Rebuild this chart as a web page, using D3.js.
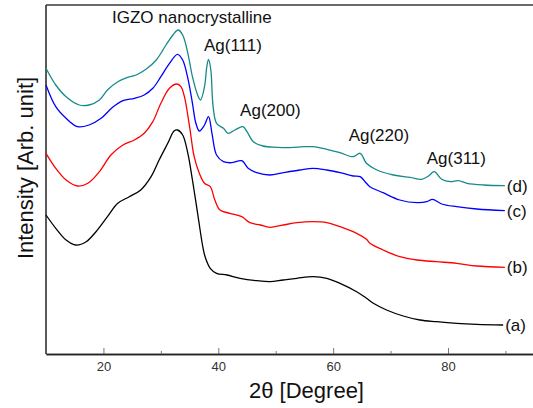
<!DOCTYPE html>
<html>
<head>
<meta charset="utf-8">
<script src="https://cdn.jsdelivr.net/npm/d3@7"></script>
<style>
  html, body { margin: 0; padding: 0; background: #fff; }
  svg { display: block; font-family: 'Liberation Sans', Arial, sans-serif; }
  .peak { font-size: 17px; fill: #111; }
  .tick text { font-size: 13px; fill: #333; }
  .tick line { stroke: #777; }
</style>
</head>
<body>
<script>
(function () {
  'use strict'

  // 2theta [deg], intensity [arb.]
  var sampleA = [
    [10.0, 139], [11.7, 125.7], [13.5, 114], [15.2, 109], [17.0, 112.3],
    [18.7, 122.3], [20.7, 137.3], [22.5, 150.7], [24.5, 157.3], [26.5, 164],
    [28.3, 177.3], [29.7, 194], [31.2, 210.7], [32.3, 223], [32.9, 224],
    [33.8, 219], [34.7, 200.7], [35.5, 174], [36.4, 140.7], [37.3, 107.3],
    [37.7, 97.3], [38.6, 85.7], [39.7, 80.7], [41.5, 79], [43.8, 75.7],
    [46.7, 73.3], [49.0, 72.3], [51.3, 74], [53.7, 75.7], [56.5, 77.3],
    [58.9, 75.7], [61.2, 70.7], [64.1, 62.3], [65.8, 55.7], [67.0, 50.7],
    [69.3, 44], [72.2, 38], [75.1, 34], [78.0, 32.3], [81.5, 30.7],
    [85.0, 29.7], [89.6, 29]
  ]
  var sampleB = [
    [10.0, 200.7], [11.7, 185.7], [13.5, 174], [15.5, 168], [17.3, 170.7],
    [19.3, 182.3], [21.3, 199], [23.4, 209], [25.4, 214], [27.1, 220.7],
    [28.6, 232.3], [30.0, 250.7], [31.5, 265.7], [32.8, 270], [33.5, 267.3],
    [34.1, 257.3], [35.0, 227.3], [35.8, 197.3], [36.7, 180.7], [37.6, 170.7],
    [38.6, 167.3], [39.4, 154], [40.3, 144], [42.0, 140.7], [44.1, 137.3],
    [45.5, 131.3], [47.3, 129], [49.0, 126.7], [51.3, 129], [53.7, 131.3],
    [56.5, 132.3], [58.9, 131.3], [61.2, 127.3], [64.1, 120.7], [65.8, 114.7],
    [66.4, 110.7], [68.7, 104], [71.6, 97.3], [74.6, 94], [78.0, 92.3],
    [81.5, 90.7], [85.0, 88], [89.9, 86.7]
  ]
  var sampleC = [
    [10.0, 269], [11.7, 247.3], [13.5, 235.7], [15.5, 227.3], [17.5, 229],
    [19.6, 235.7], [21.6, 246.7], [23.4, 253.3], [25.4, 255.7], [27.1, 259],
    [28.6, 265.7], [30.0, 277.3], [31.5, 290.7], [32.9, 299.7], [33.8, 294],
    [34.7, 275.7], [35.5, 250.7], [36.1, 230.7], [36.7, 223], [37.6, 229],
    [38.3, 237.3], [38.9, 220.7], [39.7, 199], [40.9, 192.3], [42.3, 191.3],
    [44.1, 193.3], [45.2, 185.7], [46.7, 181.3], [49.0, 179], [51.3, 181.3],
    [54.2, 184], [56.5, 185.7], [58.9, 184], [61.2, 181.3], [63.5, 178],
    [64.7, 177.3], [65.8, 170.7], [66.4, 167.3], [68.7, 161.3], [71.6, 154],
    [74.6, 151.3], [76.3, 152.3], [77.3, 154.7], [78.9, 150], [81.5, 147.3],
    [85.0, 145], [89.9, 143.3]
  ]
  var sampleD = [
    [10.0, 285.7], [11.7, 269], [13.5, 257.3], [15.8, 249], [17.5, 249],
    [19.3, 254], [20.7, 264], [22.5, 272.3], [24.2, 276.7], [25.7, 279],
    [27.4, 284.7], [29.2, 294], [30.9, 309], [32.1, 319], [33.0, 324],
    [33.8, 319], [34.7, 300.7], [35.5, 277.3], [36.4, 259], [36.9, 254],
    [37.6, 267.3], [38.0, 287.3], [38.3, 294.7], [38.7, 284], [39.1, 247.3],
    [39.7, 230.7], [40.9, 225.7], [41.7, 220.7], [42.9, 224], [44.3, 227.3],
    [45.0, 222.3], [46.1, 212.3], [47.8, 208], [50.2, 206.7], [52.5, 206.3],
    [54.8, 207.3], [56.5, 207.3], [58.9, 204.7], [61.2, 201.3], [63.5, 197.3],
    [64.7, 200.7], [65.8, 190.7], [67.6, 184], [70.5, 179], [73.4, 176.7],
    [75.4, 174.7], [76.6, 178], [77.6, 182.3], [78.9, 174.7], [80.4, 172.3],
    [81.8, 173.3], [83.3, 170.7], [86.2, 169], [89.9, 168.3]
  ]

  var seriesNames = ['(a)', '(b)', '(c)', '(d)']
  var seriesColors = ['#000000', '#ff0000', '#0000ff', '#168a8a']
  var seriesData = [sampleA, sampleB, sampleC, sampleD]

  var majorTicks = [20, 40, 60, 80]
  var minorTicks = [30, 50, 70, 90]

  // peak labels: [text, 2theta, intensity]
  var peakLabels = [
    ['IGZO nanocrystalline', 21.5, 331],
    ['Ag(111)', 37.5, 303],
    ['Ag(200)', 43.8, 238],
    ['Ag(220)', 62.7, 213],
    ['Ag(311)', 76.3, 190]
  ]

  var dim = { w: 533, h: 408 }
  var margin = { left: 46, top: 5, right: 0, bottom: 54 }

  var svg = d3.select('body').append('svg')
    .attr('width', dim.w)
    .attr('height', dim.h)

  var x = d3.scaleLinear().domain([10, 94.8])
    .range([margin.left, dim.w - margin.right])
  var y = d3.scaleLinear().domain([0, 349])
    .range([dim.h - margin.bottom, margin.top])

  // frame: top line, left axis
  svg.append('line')
    .attr('x1', margin.left).attr('x2', dim.w)
    .attr('y1', margin.top).attr('y2', margin.top)
    .attr('stroke', '#6a6a6a').attr('stroke-width', 2)
  svg.append('line')
    .attr('x1', margin.left).attr('x2', margin.left)
    .attr('y1', margin.top).attr('y2', dim.h - margin.bottom)
    .attr('stroke', '#222').attr('stroke-width', 1.5)

  var line = d3.line()
    .x(function (d) { return x(d[0]) })
    .y(function (d) { return y(d[1]) })
    .curve(d3.curveCatmullRom.alpha(0.5))

  svg.selectAll('.trace').data(seriesData)
    .enter().append('path')
      .attr('class', 'trace')
      .attr('fill', 'none')
      .attr('stroke', function (d, i) { return seriesColors[i] })
      .attr('stroke-width', 1.3)
      .attr('d', line)

  // bottom axis, ticks pointing inward
  var gx = svg.append('g')
    .attr('transform', 'translate(0,' + (dim.h - margin.bottom) + ')')
  gx.call(d3.axisBottom(x).tickValues(majorTicks).tickSize(-6)
    .tickSizeOuter(0).tickPadding(8))
  gx.append('g').call(d3.axisBottom(x).tickValues(minorTicks).tickSize(-3)
    .tickSizeOuter(0).tickFormat(''))
  gx.selectAll('.domain').attr('stroke', '#222').attr('stroke-width', 1.5)

  // series labels at the right end
  svg.selectAll('.name').data(seriesData)
    .enter().append('text')
      .attr('class', 'peak')
      .attr('x', function (d) { return x(d[d.length - 1][0]) + 2 })
      .attr('y', function (d) { return y(d[d.length - 1][1]) + 6 })
      .text(function (d, i) { return seriesNames[i] })

  svg.selectAll('.lbl').data(peakLabels)
    .enter().append('text')
      .attr('class', 'peak')
      .attr('x', function (d) { return x(d[1]) })
      .attr('y', function (d) { return y(d[2]) })
      .text(function (d) { return d[0] })

  svg.append('text')
    .attr('x', (margin.left + dim.w) / 2 + 17)
    .attr('y', 398)
    .attr('text-anchor', 'middle')
    .style('font-size', '22px')
    .attr('fill', '#111')
    .text('2\u03b8 [Degree]')

  svg.append('text')
    .attr('transform', 'translate(33,' + 168 + ') rotate(-90)')
    .attr('text-anchor', 'middle')
    .style('font-size', '22px')
    .attr('fill', '#111')
    .text('Intensity [Arb. unit]')
}())
</script>
</body>
</html>
